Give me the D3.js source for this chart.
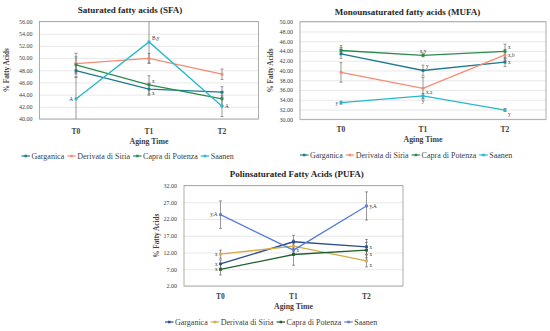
<!DOCTYPE html>
<html>
<head>
<meta charset="utf-8">
<script src="https://cdn.jsdelivr.net/npm/d3@7"></script>
<style>
  body { margin: 0; background: #fff; }
  svg text { font-family: "Liberation Serif", "Times New Roman", serif; }
</style>
</head>
<body>
<div id="vis"></div>
<script>
const W = 550, H = 331;

// categories
const times = ["T0", "T1", "T2"];
const breeds = ["Garganica", "Derivata di Siria", "Capra di Potenza", "Saanen"];

// SFA
const sfaTicks = [40, 42, 44, 46, 48, 50, 52, 54, 56];
const sfaMeans = [[47.95, 44.9, 44.4], [49.1, 49.95, 47.35], [48.9, 45.6, 43.3], [43.3, 52.65, 42.1]];
const sfaErrors = [[1.1, 1.0, 0.9], [1.7, 0.8, 0.85], [1.3, 1.5, 1.1], [3.6, 3.5, 1.7]];
const sfaLetters = [["", "x", ""], ["", "", ""], ["", "x", ""], ["A", "B,y", "A"]];

// MUFA
const mufaTicks = [30, 32, 34, 36, 38, 40, 42, 44, 46, 48, 50];
const mufaMeans = [[43.4, 40.0, 41.7], [39.6, 36.35, 43.2], [44.1, 43.1, 43.9], [33.4, 34.8, 31.9]];
const mufaErrors = [[0.9, 1.1, 0.9], [2.0, 2.2, 1.1], [0.5, 0.3, 1.5], [0.3, 0.5, 0.3]];
const mufaLetters = [["", "y", "x"], ["", "x,a", "x,b"], ["x", "x,y", "x"], ["y", "y", "y"]];

// PUFA
const pufaTicks = [2, 7, 12, 17, 22, 27, 32];
const pufaMeans = [[8.6, 15.2, 13.7], [11.5, 13.9, 9.5], [6.95, 11.4, 12.7], [23.3, 12.7, 25.9]];
const pufaErrors = [[1.2, 1.95, 2.2], [1.2, 1.8, 1.8], [1.65, 3.2, 2.3], [4.1, 1.0, 4.2]];
const pufaLetters = [["x", "", "x"], ["x", "", "x"], ["x", "", "x"], ["y,A", "x", "y,A"]];

// label placement (style only)
const sfaPos = [["", "br", ""], ["", "", ""], ["", "tr", ""], ["l", "tr", "r"]];
const mufaPos = [["", "tr", "r"], ["", "br", "r"], ["t", "t", "tr"], ["l", "b", "br"]];
const pufaPos = [["l", "", "r"], ["l", "", "br"], ["l", "", "br"], ["l", "r", "r"]];

const colorsA = ["#1f7a90", "#f68a72", "#2c8b4e", "#25b8cd"];
const colorsB = ["#2f4c8f", "#d6aa45", "#215d2d", "#5a7ed8"];

const svg = d3.select("#vis").append("svg")
  .attr("width", W).attr("height", H);

function drawPanel(p) {
  const g = svg.append("g");
  const x = d3.scalePoint().domain(times).range([p.left, p.right]).padding(0.5);
  const y = d3.scaleLinear().domain(p.domain).range([p.bottom, p.top]);
  const clipId = "clip-" + p.id;

  svg.append("clipPath").attr("id", clipId)
    .append("rect")
    .attr("x", p.left).attr("y", p.top)
    .attr("width", p.right - p.left).attr("height", p.bottom - p.top);

  // gridlines + tick labels
  const yAxis = g.append("g")
    .attr("transform", `translate(${p.left},0)`)
    .call(d3.axisLeft(y).tickValues(p.ticks).tickFormat(d3.format(".2f"))
      .tickSize(-(p.right - p.left)).tickPadding(7));
  yAxis.select(".domain").remove();
  yAxis.selectAll(".tick line").attr("stroke", "#dedede").attr("stroke-width", 0.7);
  yAxis.selectAll(".tick text")
    .attr("font-size", 6).attr("fill", "#404040");

  // plot border
  g.append("rect")
    .attr("x", p.left).attr("y", p.top)
    .attr("width", p.right - p.left).attr("height", p.bottom - p.top)
    .attr("fill", "none").attr("stroke", "#9a9a9a").attr("stroke-width", 0.8);

  // x labels
  g.selectAll(".xl").data(times).join("text")
    .attr("x", d => x(d)).attr("y", p.xLabelY)
    .attr("text-anchor", "middle").attr("font-size", 7.5).attr("font-weight", "bold")
    .attr("fill", "#404040").text(d => d);

  // axis titles
  g.append("text")
    .attr("x", (p.left + p.right) / 2).attr("y", p.xTitleY)
    .attr("text-anchor", "middle").attr("font-size", 7.8).attr("font-weight", "bold")
    .attr("fill", "#404040").text("Aging Time");
  g.append("text")
    .attr("transform", `translate(${p.yTitleX},${(p.top + p.bottom) / 2}) rotate(-90)`)
    .attr("text-anchor", "middle").attr("font-size", 7.2).attr("font-weight", "bold")
    .attr("fill", "#404040").text("% Fatty Acids");

  // chart title
  g.append("text")
    .attr("x", p.titleX).attr("y", p.titleY)
    .attr("text-anchor", "middle").attr("font-size", 9).attr("font-weight", "bold")
    .attr("fill", "#262626").text(p.title);

  const series = breeds.map((b, i) => ({
    name: b, color: p.colors[i],
    pts: times.map((t, j) => ({ t, v: p.means[i][j], e: p.errors[i][j], lab: p.letters[i][j], pos: p.pos[i][j] }))
  }));

  // error bars
  const eg = g.append("g").attr("clip-path", `url(#${clipId})`)
    .attr("stroke", "#6e6e6e").attr("stroke-width", 0.7);
  series.forEach(s => s.pts.forEach(d => {
    const cx = x(d.t);
    eg.append("line").attr("x1", cx).attr("x2", cx)
      .attr("y1", y(d.v - d.e)).attr("y2", y(d.v + d.e));
    [d.v - d.e, d.v + d.e].forEach(v => {
      eg.append("line").attr("x1", cx - 1.5).attr("x2", cx + 1.5)
        .attr("y1", y(v)).attr("y2", y(v));
    });
  }));

  // lines + markers
  const line = d3.line().x(d => x(d.t)).y(d => y(d.v));
  series.forEach(s => {
    g.append("path").datum(s.pts)
      .attr("d", line).attr("fill", "none")
      .attr("stroke", s.color).attr("stroke-width", 1.3);
    g.selectAll(null).data(s.pts).join("rect")
      .attr("x", d => x(d.t) - 1.4).attr("y", d => y(d.v) - 1.4)
      .attr("width", 2.8).attr("height", 2.8)
      .attr("fill", s.color);
  });

  // letters
  const off = { l: [-3, 0, "end"], r: [3, 0, "start"], t: [0, -4, "middle"], b: [0, 5, "middle"],
    tr: [3, -4, "start"], br: [3, 4, "start"] };
  series.forEach(s => s.pts.forEach(d => {
    if (!d.lab) return;
    const o = off[d.pos];
    g.append("text")
      .attr("x", x(d.t) + o[0]).attr("y", y(d.v) + o[1] + 1.8)
      .attr("text-anchor", o[2]).attr("font-size", 5.2).attr("fill", "#404040")
      .text(d.lab);
  }));

  // legend
  const lg = g.append("g").attr("transform", `translate(${p.legendX},${p.legendY})`);
  let cx = 0;
  series.forEach(s => {
    const it = lg.append("g").attr("transform", `translate(${cx},0)`);
    it.append("line").attr("x1", 0).attr("x2", 8.5).attr("y1", 0).attr("y2", 0)
      .attr("stroke", s.color).attr("stroke-width", 1.2);
    it.append("rect").attr("x", 3).attr("y", -1.25).attr("width", 2.5).attr("height", 2.5).attr("fill", s.color);
    const t = it.append("text").attr("x", 10).attr("y", 2.7)
      .attr("font-size", 8).attr("fill", "#404040").text(s.name);
    cx += 10 + t.node().getComputedTextLength() + p.legendGap;
  });
}

drawPanel({
  id: "sfa", title: "Saturated fatty acids (SFA)", titleX: 130, titleY: 12.5,
  left: 39.5, right: 258.5, top: 21.5, bottom: 119, domain: [40, 56], ticks: sfaTicks,
  means: sfaMeans, errors: sfaErrors, letters: sfaLetters, pos: sfaPos, colors: colorsA,
  xLabelY: 133.5, xTitleY: 143.5, yTitleX: 8.5, legendX: 21.5, legendY: 156, legendGap: 3
});

drawPanel({
  id: "mufa", title: "Monounsaturated fatty acids (MUFA)", titleX: 407.5, titleY: 15.3,
  left: 300, right: 546, top: 21.7, bottom: 119.3, domain: [30, 50], ticks: mufaTicks,
  means: mufaMeans, errors: mufaErrors, letters: mufaLetters, pos: mufaPos, colors: colorsA,
  xLabelY: 131.8, xTitleY: 142, yTitleX: 272.5, legendX: 300, legendY: 155, legendGap: 3
});

drawPanel({
  id: "pufa", title: "Polinsaturated Fatty Acids (PUFA)", titleX: 296.7, titleY: 177.3,
  left: 184, right: 403, top: 185.5, bottom: 286, domain: [2, 32], ticks: pufaTicks,
  means: pufaMeans, errors: pufaErrors, letters: pufaLetters, pos: pufaPos, colors: colorsB,
  xLabelY: 298.5, xTitleY: 309.3, yTitleX: 158.5, legendX: 165, legendY: 322, legendGap: 3
});
</script>
</body>
</html>
